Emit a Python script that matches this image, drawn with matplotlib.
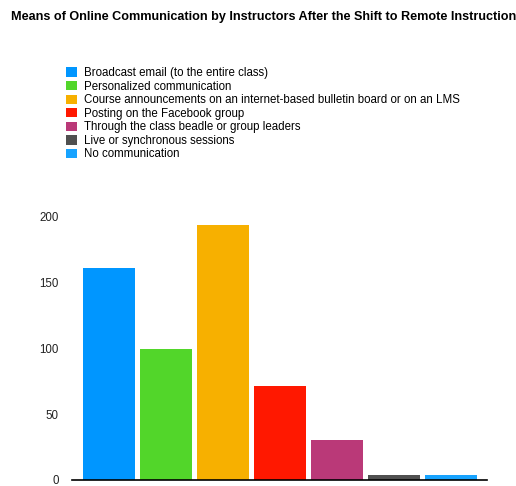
import matplotlib
matplotlib.use("Agg")
import matplotlib.pyplot as plt

plt.rcParams['font.family'] = ['Liberation Sans', 'DejaVu Sans']

title = "Means of Online Communication by Instructors After the Shift to Remote Instruction"
categories = [
    "Broadcast email (to the entire class)",
    "Personalized communication",
    "Course announcements on an internet-based bulletin board or on an LMS",
    "Posting on the Facebook group",
    "Through the class beadle or group leaders",
    "Live or synchronous sessions",
    "No communication",
]
counts = [161, 99, 193, 71, 30, 4, 4]
colors = ["#0096FF", "#52D62A", "#F7B000", "#FF1800", "#BA3978", "#505050", "#17A3FF"]
yticks = [0, 50, 100, 150, 200]

fig = plt.figure(figsize=(5.16, 4.86), dpi=100)
ax = fig.add_axes([0.1401, 0.0125, 0.8043, 0.5425])

bars = ax.bar(range(len(counts)), counts, width=0.907, color=colors, clip_on=False)

ax.set_xlim(-0.647, 6.637)
ax.set_ylim(0, 200)
ax.set_xticks([])
ax.set_yticks(yticks)
ax.tick_params(axis='y', length=0, pad=9.6, labelsize=8.3, labelcolor="#222222")
for side in ("top", "right", "left"):
    ax.spines[side].set_visible(False)
ax.spines["bottom"].set_linewidth(1.2)
ax.spines["bottom"].set_color("black")

fig.text(0.511, 0.965, title, ha="center", va="center", fontsize=9.05, fontweight="bold")

fig.legend(bars, categories, loc="upper left", bbox_to_anchor=(0.128, 0.862),
           frameon=False, fontsize=8.3, handlelength=0.95, handleheight=0.87,
           handletextpad=0.6, labelspacing=0.135, borderpad=0, borderaxespad=0)

fig.savefig("out.png", dpi=100)
